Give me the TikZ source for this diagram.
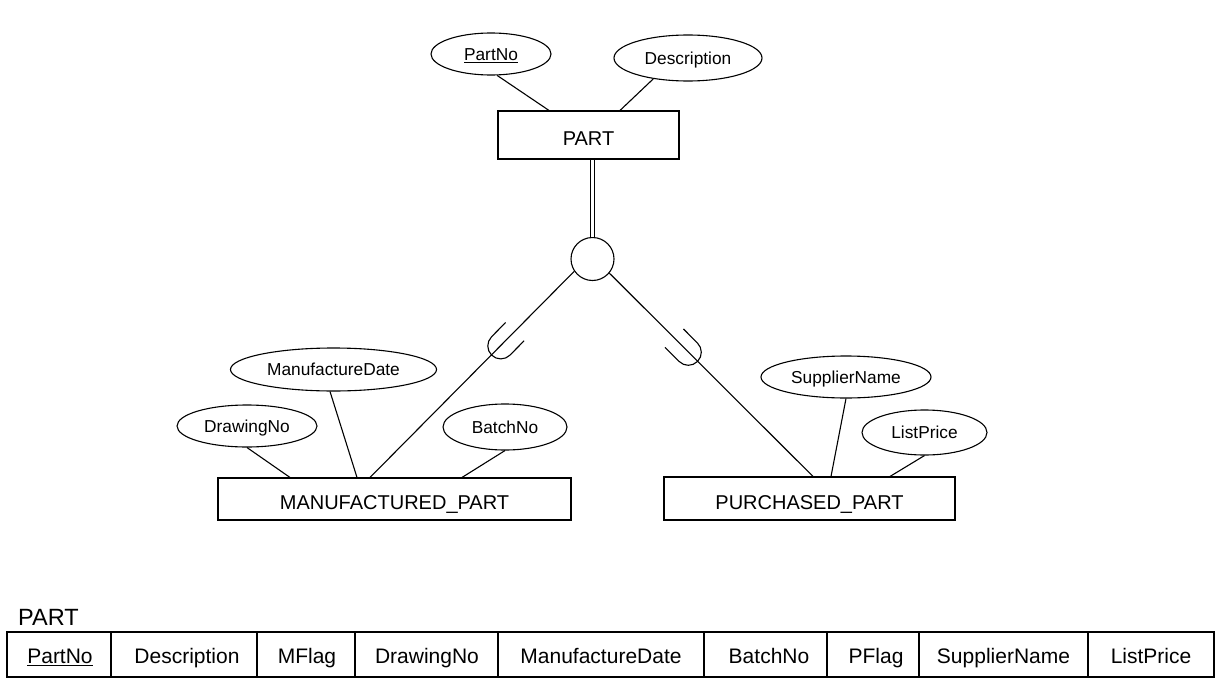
\documentclass[tikz,border=0pt]{standalone}
\usepackage{fontspec}
\setmainfont{Liberation Sans}
\usetikzlibrary{shapes.geometric,calc}
\begin{document}
\begin{tikzpicture}[x=1pt,y=-1pt,
  ln/.style={line width=1.1pt},
  ent/.style={draw,line width=1.1pt,rectangle,inner sep=0pt,font=\fontsize{20}{24}\selectfont,text height=21.3pt,text depth=0pt},
  att/.style={draw,line width=1.1pt,ellipse,inner sep=0pt,font=\fontsize{17.3}{20}\selectfont,text height=12.6pt,text depth=0pt},
  cell/.style={anchor=base,inner sep=0pt,font=\fontsize{21}{25}\selectfont},
  tbl/.style={line width=1.2pt},
]
\fill[white] (0,0) rectangle (1224,696);
\useasboundingbox (0,0) rectangle (1224,696);

% entities
\node[ent,minimum width=181pt,minimum height=48pt] (part) at (588.5,135) {PART};
\node[ent,minimum width=353pt,minimum height=42pt] (mp) at (394.5,499) {MANUFACTURED\_PART};
\node[ent,minimum width=291pt,minimum height=43pt] (pp) at (809.5,498.5) {PURCHASED\_PART};

% attributes
\node[att,minimum width=120pt,minimum height=42pt] (pn) at (491,54) {\underline{PartNo}};
\node[att,minimum width=148pt,minimum height=46pt] (desc) at (688,58) {Description};
\node[att,minimum width=206pt,minimum height=43pt] (md) at (333.5,369.5) {ManufactureDate};
\node[att,minimum width=140pt,minimum height=42pt] (dn) at (247,426) {DrawingNo};
\node[att,minimum width=124pt,minimum height=46pt] (bn) at (505,427) {BatchNo};
\node[att,minimum width=170pt,minimum height=42pt] (sn) at (846,377) {SupplierName};
\node[att,minimum width=125pt,minimum height=45pt] (lp) at (924.5,432.5) {ListPrice};

% specialization circle
\node[draw,circle,ln,minimum size=43pt,inner sep=0pt] (circ) at (592.5,259) {};

% connectors
\draw[ln] (pn.-74) -- ([xshift=-39.5pt]part.north);
\draw[ln] (desc.211) -- ([xshift=31.5pt]part.north);
\draw[line width=1pt,double,double distance=2.6pt] (circ.north) -- (circ.north |- part.south);
\draw[ln] (circ.214.5) -- ([xshift=-24.5pt]mp.north);
\draw[ln] (circ.-40.3) -- ([xshift=3.5pt]pp.north);
\draw[ln] (dn.south) -- ([xshift=-104.5pt]mp.north);
\draw[ln] (md.261) -- ([xshift=-37.5pt]mp.north);
\draw[ln] (bn.south) -- ([xshift=67.5pt]mp.north);
\draw[ln] (sn.south) -- ([xshift=21.5pt]pp.north);
\draw[ln] (lp.south) -- ([xshift=80.5pt]pp.north);

% subset symbols
\draw[ln] (524.1,340.8) -- (510.04,355.05) arc[start angle=44.7,end angle=224.7,radius=13] -- (505.6,322.5);
\draw[ln] (683.4,328.9) -- (697.5,343.1) arc[start angle=-45,end angle=135,radius=13] -- (665,347.4);

% relation table
\node[anchor=base west,inner sep=0pt,font=\fontsize{23.5}{28}\selectfont] (lbl) at (18,625) {PART};
\draw[tbl] (7,632) rectangle (1214,677);
\foreach \x in {111,257,355,498,704,827,919,1088} \draw[tbl] (\x,632) -- (\x,677);
\node[cell] (c1) at (60,663.5) {\underline{PartNo}};
\node[cell] (c2) at (187,663.5) {Description};
\node[cell] (c3) at (307,663.5) {MFlag};
\node[cell] (c4) at (427,663.5) {DrawingNo};
\node[cell] (c5) at (601,663.5) {ManufactureDate};
\node[cell] (c6) at (769,663.5) {BatchNo};
\node[cell] (c7) at (876,663.5) {PFlag};
\node[cell] (c8) at (1003.5,663.5) {SupplierName};
\node[cell] (c9) at (1151,663.5) {ListPrice};
\end{tikzpicture}
\end{document}
